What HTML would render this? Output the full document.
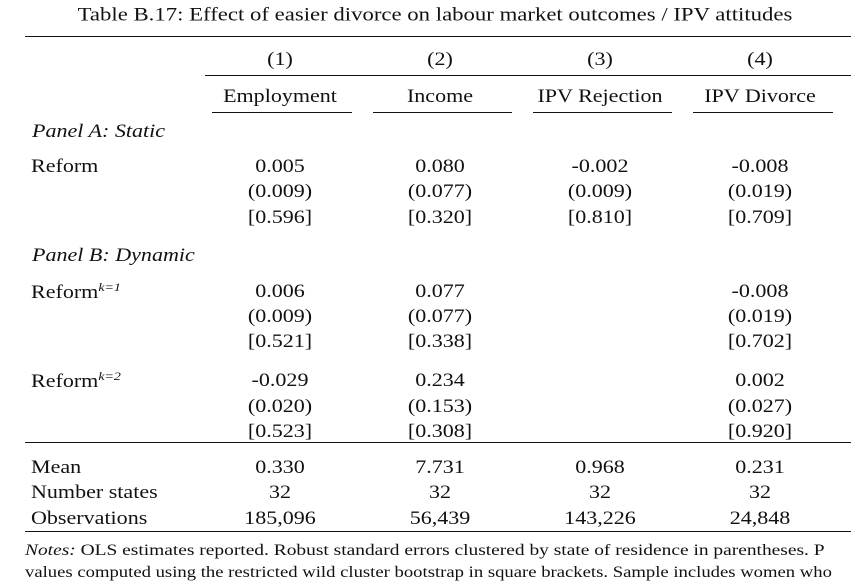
<!DOCTYPE html>
<html><head><meta charset="utf-8"><style>
body{margin:0;background:#fff;}
#t{position:relative;width:851px;height:581px;overflow:hidden;font-family:"Liberation Serif",serif;color:#111;font-size:19px;}
.c{position:absolute;transform:translate(-50%,-50%) scaleX(1.16);white-space:nowrap;margin-top:2px;}
.l{position:absolute;transform:translateY(-50%) scaleX(1.16);transform-origin:left center;white-space:nowrap;margin-top:2px;}
.r{position:absolute;height:1.3px;background:#111;}
i{font-style:italic;}
sup{font-size:12px;font-style:italic;}
</style></head><body>
<div id="t">
<div class="c" style="left:435px;top:14px;font-size:18.5px;transform:translate(-50%,-50%) scaleX(1.23)">Table B.17: Effect of easier divorce on labour market outcomes / IPV attitudes</div>
<div class="r" style="left:25px;top:36px;width:826px"></div>
<div class="c" style="left:280px;top:58px">(1)</div>
<div class="c" style="left:440px;top:58px">(2)</div>
<div class="c" style="left:600px;top:58px">(3)</div>
<div class="c" style="left:760px;top:58px">(4)</div>
<div class="r" style="left:205px;top:75px;width:646px"></div>
<div class="c" style="left:280px;top:95px">Employment</div>
<div class="c" style="left:440px;top:95px">Income</div>
<div class="c" style="left:600px;top:95px">IPV Rejection</div>
<div class="c" style="left:760px;top:95px">IPV Divorce</div>
<div class="r" style="left:212px;top:112px;width:140px"></div>
<div class="r" style="left:373px;top:112px;width:139px"></div>
<div class="r" style="left:533px;top:112px;width:139px"></div>
<div class="r" style="left:693px;top:112px;width:140px"></div>

<div class="l" style="left:32px;top:130px"><i>Panel A: Static</i></div>
<div class="l" style="left:31px;top:165px">Reform</div>
<div class="c" style="left:280px;top:165px">0.005</div><div class="c" style="left:440px;top:165px">0.080</div><div class="c" style="left:600px;top:165px">-0.002</div><div class="c" style="left:760px;top:165px">-0.008</div>
<div class="c" style="left:280px;top:190px">(0.009)</div><div class="c" style="left:440px;top:190px">(0.077)</div><div class="c" style="left:600px;top:190px">(0.009)</div><div class="c" style="left:760px;top:190px">(0.019)</div>
<div class="c" style="left:280px;top:216px">[0.596]</div><div class="c" style="left:440px;top:216px">[0.320]</div><div class="c" style="left:600px;top:216px">[0.810]</div><div class="c" style="left:760px;top:216px">[0.709]</div>

<div class="l" style="left:32px;top:254px"><i>Panel B: Dynamic</i></div>
<div class="l" style="left:31px;top:290px">Reform<sup>k=1</sup></div>
<div class="c" style="left:280px;top:290px">0.006</div><div class="c" style="left:440px;top:290px">0.077</div><div class="c" style="left:760px;top:290px">-0.008</div>
<div class="c" style="left:280px;top:315px">(0.009)</div><div class="c" style="left:440px;top:315px">(0.077)</div><div class="c" style="left:760px;top:315px">(0.019)</div>
<div class="c" style="left:280px;top:340px">[0.521]</div><div class="c" style="left:440px;top:340px">[0.338]</div><div class="c" style="left:760px;top:340px">[0.702]</div>

<div class="l" style="left:31px;top:379px">Reform<sup>k=2</sup></div>
<div class="c" style="left:280px;top:379px">-0.029</div><div class="c" style="left:440px;top:379px">0.234</div><div class="c" style="left:760px;top:379px">0.002</div>
<div class="c" style="left:280px;top:405px">(0.020)</div><div class="c" style="left:440px;top:405px">(0.153)</div><div class="c" style="left:760px;top:405px">(0.027)</div>
<div class="c" style="left:280px;top:430px">[0.523]</div><div class="c" style="left:440px;top:430px">[0.308]</div><div class="c" style="left:760px;top:430px">[0.920]</div>

<div class="r" style="left:25px;top:442px;width:826px"></div>
<div class="l" style="left:31px;top:466px">Mean</div>
<div class="c" style="left:280px;top:466px">0.330</div><div class="c" style="left:440px;top:466px">7.731</div><div class="c" style="left:600px;top:466px">0.968</div><div class="c" style="left:760px;top:466px">0.231</div>
<div class="l" style="left:31px;top:491px">Number states</div>
<div class="c" style="left:280px;top:491px">32</div><div class="c" style="left:440px;top:491px">32</div><div class="c" style="left:600px;top:491px">32</div><div class="c" style="left:760px;top:491px">32</div>
<div class="l" style="left:31px;top:517px">Observations</div>
<div class="c" style="left:280px;top:517px">185,096</div><div class="c" style="left:440px;top:517px">56,439</div><div class="c" style="left:600px;top:517px">143,226</div><div class="c" style="left:760px;top:517px">24,848</div>
<div class="r" style="left:25px;top:531px;width:826px"></div>
<div class="l" style="left:25px;top:549px;font-size:15.3px;transform:translateY(-50%) scaleX(1.27)"><i>Notes:</i> OLS estimates reported. Robust standard errors clustered by state of residence in parentheses. P</div>
<div class="l" style="left:25px;top:571px;font-size:15.3px;transform:translateY(-50%) scaleX(1.22)">values computed using the restricted wild cluster bootstrap in square brackets. Sample includes women who</div>
</div>
</body></html>
